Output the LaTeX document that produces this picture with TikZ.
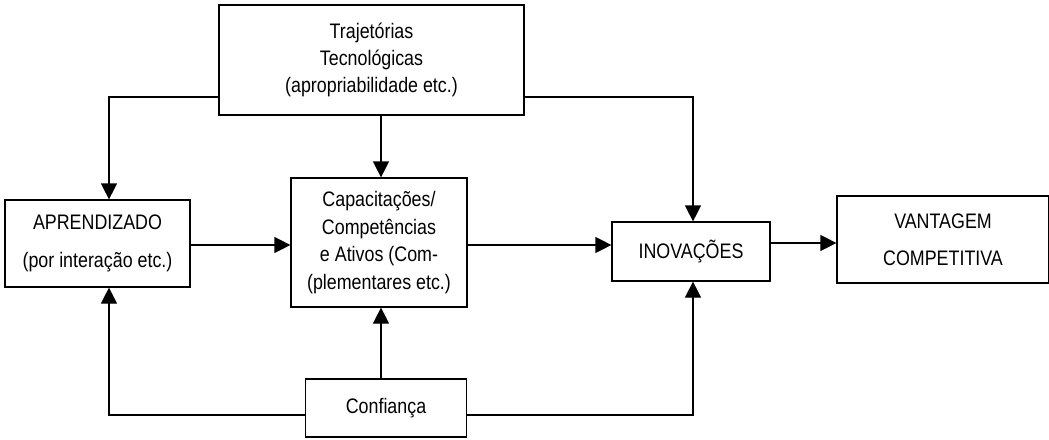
\documentclass[tikz,border=0pt]{standalone}
\usepackage{fontspec}
\setmainfont{Liberation Sans}[FakeStretch=0.85]
\usetikzlibrary{arrows.meta}

\begin{document}
\begin{tikzpicture}[x=0.5pt, y=-0.5pt,
        box/.style={rectangle, draw, line width=0.6pt, inner sep=0pt, align=center, font=\fontsize{10.5}{13.7}\selectfont},
        link/.style={line width=0.6pt, -{Triangle[length=8pt, width=8pt]}}]
        \useasboundingbox (0,0) rectangle (1049,439);

            \node (traj) [box, minimum width=152.5pt, minimum height=55pt] at (371.5,60) {Trajetórias\\Tecnológicas\\(apropriabilidade etc.)};
            \node (apren) [box, minimum width=92.5pt, minimum height=43.5pt] at (97.5,243.5) {APRENDIZADO\\[5pt](por interação etc.)};
            \node (capac) [box, minimum width=88pt, minimum height=64.5pt] at (379,242.5) {Capacitações/\\Competências\\e Ativos (Com-\\(plementares etc.)};
            \node (innov) [box, minimum width=79pt, minimum height=29.5pt] at (691,251.5) {INOVAÇÕES};
            \node (vant) [box, minimum width=106pt, minimum height=43.5pt] at (943,239.5) {VANTAGEM\\[5pt]COMPETITIVA};
            \node (conf) [box, minimum width=80.5pt, minimum height=29pt] at (386,408) {Confiança};

            \draw[link] (traj.west |- 0,97) -| (109,0 |- apren.north);
            \draw[link] (381,0 |- traj.south) -- (381,0 |- capac.north);
            \draw[link] (traj.east |- 0,97) -| (693,0 |- innov.north);
            \draw[link] (apren.east |- 0,245) -- (capac.west |- 0,245);
            \draw[link] (capac.east |- 0,245) -- (innov.west |- 0,245);
            \draw[link] (innov.east |- 0,243) -- (vant.west |- 0,243);
            \draw[link] (conf.west |- 0,415) -| (109,0 |- apren.south);
            \draw[link] (381,0 |- conf.north) -- (381,0 |- capac.south);
            \draw[link] (conf.east |- 0,415) -| (693,0 |- innov.south);

        \end{tikzpicture}
\end{document}
